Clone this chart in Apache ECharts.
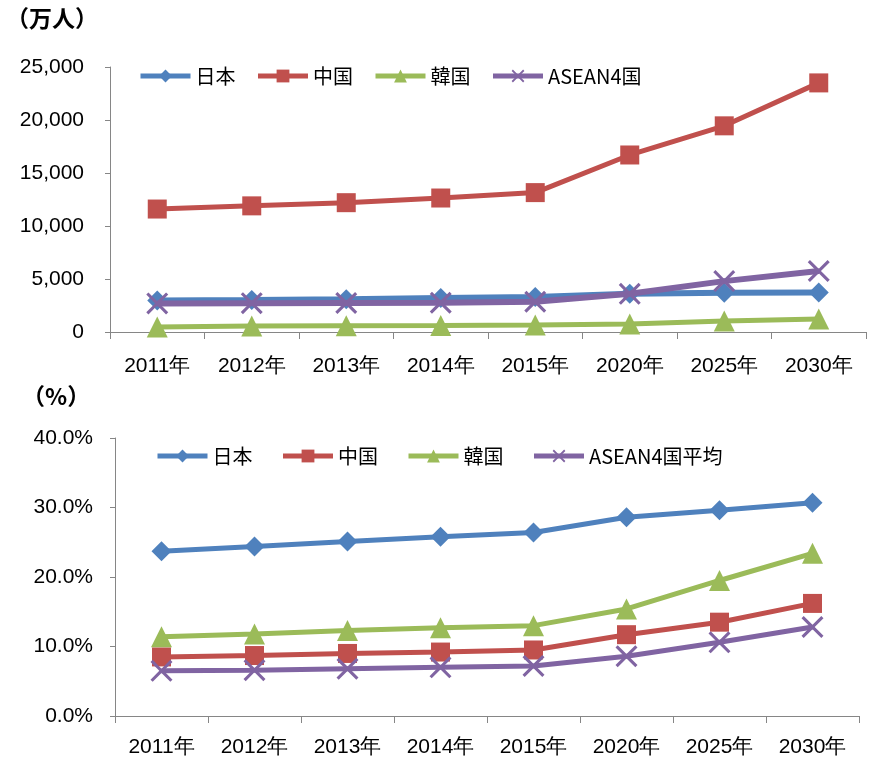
<!DOCTYPE html>
<html>
<head>
<meta charset="utf-8">
<script src="https://cdn.jsdelivr.net/npm/echarts@6/dist/echarts.min.js"></script>
<style>
  html, body { margin: 0; padding: 0; background: #fff; }
  #chart { width: 870px; height: 763px; }
</style>
</head>
<body>
<div id="chart"></div>
<script>
  // categories
  const years = ['2011年', '2012年', '2013年', '2014年', '2015年', '2020年', '2025年', '2030年']

  // top chart: population (万人)
  const popJapan = [2980, 3020, 3100, 3200, 3300, 3600, 3700, 3720]
  const popChina = [11600, 11900, 12200, 12640, 13150, 16700, 19450, 23500]
  const popKorea = [470, 560, 600, 620, 650, 750, 1030, 1230]
  const popAsean = [2700, 2720, 2740, 2760, 2850, 3600, 4800, 5750]

  // bottom chart: ratio (%)
  const rateJapan = [23.7, 24.4, 25.1, 25.8, 26.4, 28.6, 29.6, 30.7]
  const rateChina = [8.5, 8.7, 9.0, 9.2, 9.5, 11.7, 13.5, 16.2]
  const rateKorea = [11.4, 11.8, 12.3, 12.7, 13.0, 15.4, 19.5, 23.4]
  const rateAsean = [6.5, 6.6, 6.8, 7.0, 7.2, 8.6, 10.6, 12.8]

  const names1 = ['日本', '中国', '韓国', 'ASEAN4国']
  const names2 = ['日本', '中国', '韓国', 'ASEAN4国平均']

  const colors = ['#4F81BD', '#C0504D', '#9BBB59', '#8064A2']
  const crossPath = 'path://M0,1 L1,0 L5,4 L9,0 L10,1 L6,5 L10,9 L9,10 L5,6 L1,10 L0,9 L4,5 Z'
  const symbols = ['diamond', 'rect', 'triangle', crossPath]
  const sizes = [20, 19, 21, 22]
  const font = '"Noto Sans CJK JP", "Liberation Sans", sans-serif'
  const numFont = '"Liberation Sans", sans-serif'

  function makeSeries(name, data, i, idx, width) {
    return {
      name: name,
      type: 'line',
      xAxisIndex: idx,
      yAxisIndex: idx,
      data: data,
      symbol: symbols[i],
      symbolSize: sizes[i],
      showAllSymbol: true,
      lineStyle: { color: colors[i], width: width },
      itemStyle: { color: colors[i] },
      z: i === 3 ? 3 : 2,
      animation: false
    }
  }

  const axisLine = { show: true, lineStyle: { color: '#868686', width: 1 } }

  const chart = echarts.init(document.getElementById('chart'))
  chart.setOption({
    textStyle: { fontFamily: font },
    color: colors,
    graphic: [
      { type: 'text', left: 6, top: 7, style: { text: '（万人）', font: 'bold 23px ' + font, fill: '#000' } },
      { type: 'text', left: 22, top: 385, style: { text: '（%）', font: 'bold 23px ' + font, fill: '#000' } }
    ],
    legend: [
      {
        top: 61, left: 133,
        itemWidth: 50, itemHeight: 16, itemGap: 20,
        lineStyle: { width: 5 },
        textStyle: { fontSize: 20, color: '#000', fontFamily: font },
        data: names1
      },
      {
        top: 441, left: 150,
        itemWidth: 50, itemHeight: 16, itemGap: 28,
        lineStyle: { width: 5 },
        textStyle: { fontSize: 20, color: '#000', fontFamily: font },
        data: names2
      }
    ],
    grid: [
      { left: 110, right: 4, top: 67, height: 265 },
      { left: 115, right: 11, top: 438, height: 278 }
    ],
    xAxis: [
      {
        gridIndex: 0, type: 'category', data: years, boundaryGap: true,
        axisLine: axisLine,
        axisTick: { show: true, interval: 0, length: 7, lineStyle: { color: '#868686' } },
        axisLabel: { interval: 0, fontSize: 21, color: '#000', margin: 24, fontFamily: numFont }
      },
      {
        gridIndex: 1, type: 'category', data: years, boundaryGap: true,
        axisLine: axisLine,
        axisTick: { show: true, interval: 0, length: 7, lineStyle: { color: '#868686' } },
        axisLabel: { interval: 0, fontSize: 21, color: '#000', margin: 21, fontFamily: numFont }
      }
    ],
    yAxis: [
      {
        gridIndex: 0, type: 'value', min: 0, max: 25000, interval: 5000,
        axisLine: axisLine,
        axisTick: { show: true, length: 5, lineStyle: { color: '#868686' } },
        splitLine: { show: false },
        axisLabel: {
          fontSize: 21, color: '#000', margin: 26, fontFamily: numFont,
          formatter: v => v.toLocaleString('en-US')
        }
      },
      {
        gridIndex: 1, type: 'value', min: 0, max: 40, interval: 10,
        axisLine: axisLine,
        axisTick: { show: true, length: 5, lineStyle: { color: '#868686' } },
        splitLine: { show: false },
        axisLabel: {
          fontSize: 21, color: '#000', margin: 22, fontFamily: numFont,
          formatter: v => v.toFixed(1) + '%'
        }
      }
    ],
    series: [
      makeSeries(names1[0], popJapan, 0, 0, 6),
      makeSeries(names1[1], popChina, 1, 0, 5),
      makeSeries(names1[2], popKorea, 2, 0, 5),
      makeSeries(names1[3], popAsean, 3, 0, 6),
      makeSeries(names2[0], rateJapan, 0, 1, 5),
      makeSeries(names2[1], rateChina, 1, 1, 5),
      makeSeries(names2[2], rateKorea, 2, 1, 5),
      makeSeries(names2[3], rateAsean, 3, 1, 5)
    ]
  })
</script>
</body>
</html>
